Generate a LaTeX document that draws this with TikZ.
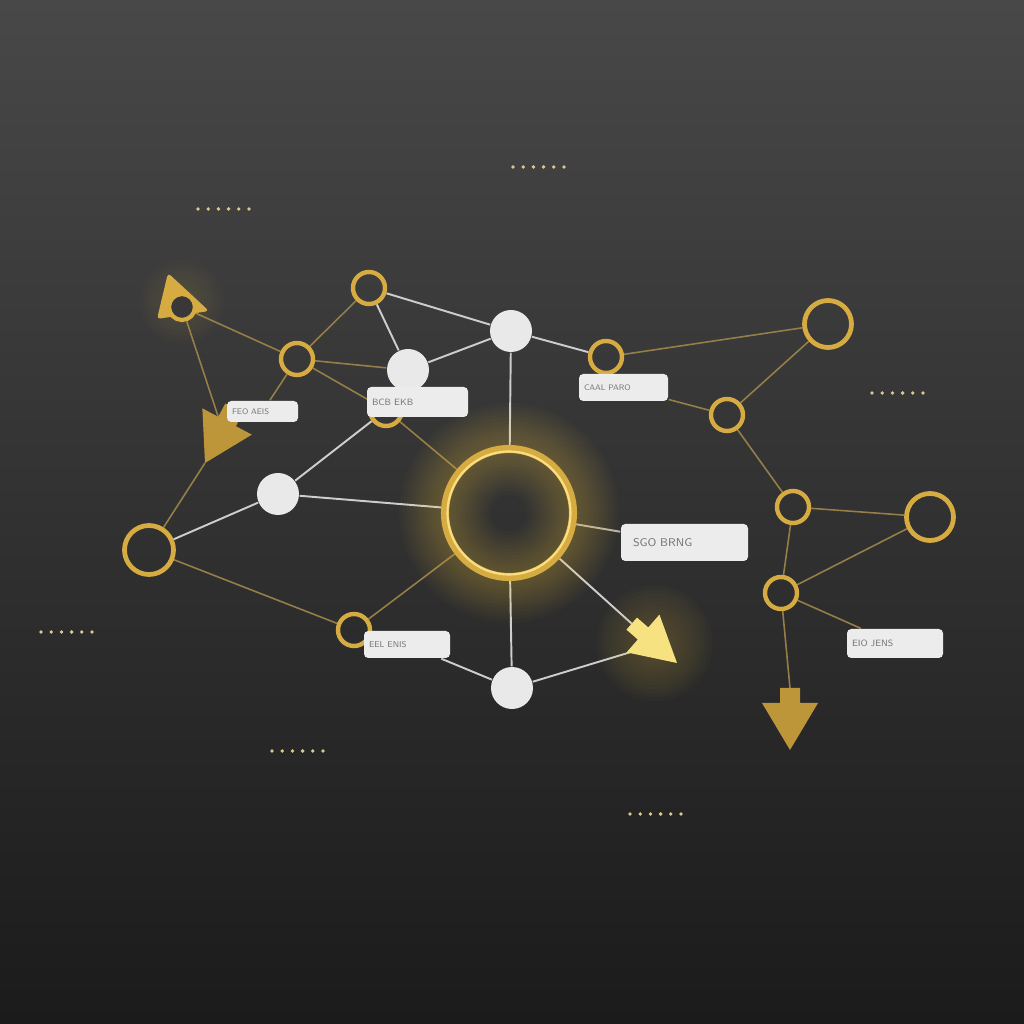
\documentclass[tikz,border=0pt]{standalone}
\usepackage{tikz}
\usetikzlibrary{positioning}
\definecolor{bgtop}{RGB}{72,72,72}
\definecolor{bgbot}{RGB}{27,27,27}
\definecolor{ringgold}{RGB}{214,172,66}
\definecolor{ringpale}{RGB}{250,222,130}
\definecolor{linegold}{RGB}{150,126,72}
\definecolor{linewhite}{RGB}{205,205,205}
\definecolor{discwhite}{RGB}{233,233,233}
\definecolor{tagwhite}{RGB}{236,236,236}
\definecolor{tagtext}{RGB}{118,118,118}
\definecolor{arrowgold}{RGB}{190,150,58}
\definecolor{arrowpale}{RGB}{246,226,128}
\definecolor{glowgold}{RGB}{255,205,70}
\definecolor{dotcream}{RGB}{220,200,140}
\newcommand{\goldarrow}{\fill[arrowgold] (0,0) -- (-0.47,0.28) -- (-0.47,0.1) -- (-0.62,0.1)
					-- (-0.62,-0.1) -- (-0.47,-0.1) -- (-0.47,-0.28) -- cycle;}
\newcommand{\glowarrow}{\foreach \r in {0.10,0.14,...,0.58} {\fill[glowgold, opacity=0.018] (-0.3,0) circle (\r);}
					\fill[arrowpale] (0,0) -- (-0.45,0.25) -- (-0.45,0.08) -- (-0.6,0.08)
					-- (-0.6,-0.08) -- (-0.45,-0.08) -- (-0.45,-0.25) -- cycle;}
\newcommand{\dotrow}{\foreach \i in {0,...,5} {\fill[dotcream] (\i*0.102,0) circle (0.019);}}
\pgfdeclarelayer{bg}
\pgfdeclarelayer{back}
\pgfsetlayers{bg,back,main}

\begin{document}
\begin{tikzpicture}[
	ring/.style={circle, draw=ringgold, line width=1.25pt, minimum size=0.32cm, inner sep=0pt},
	bigring/.style={ring, line width=1.35pt, minimum size=0.47cm},
	disc/.style={circle, fill=discwhite, minimum size=0.42cm, inner sep=0pt},
	tagbox/.style={rectangle, rounded corners=1.2pt, fill=tagwhite, text=tagtext, align=left,
		inner xsep=0.05cm, inner ysep=0pt},
	goldline/.style={draw=linegold, line width=0.45pt},
	whiteline/.style={draw=linewhite, line width=0.55pt}]

	\useasboundingbox (0,0) rectangle (10.24,10.24);
	\begin{pgfonlayer}{bg}
		\shade[top color=bgtop, bottom color=bgbot] (0,0) rectangle (10.24,10.24);
	\end{pgfonlayer}

	% glow round the middle ring
	\foreach \w in {2pt,4pt,...,26pt} {
		\draw[glowgold, line width=\w, opacity=0.022] (5.09,5.11) circle (0.64);
	}
	\node[circle, draw=ringgold, line width=2.3pt, minimum size=1.28cm, inner sep=0pt] (C) at (5.09,5.11) {};
	\draw[ringpale, line width=0.6pt] (C.center) circle (0.615);

	% rings
	\node[ring] (r1) at (3.69,7.36) {};
	\node[ring] (r2) at (2.97,6.65) {};
	\node[ring] (r3) at (3.86,6.14) {};
	\node[ring] (r4) at (6.06,6.67) {};
	\node[bigring] (r5) at (8.28,7.00) {};
	\node[ring] (r6) at (7.27,6.09) {};
	\node[ring] (r7) at (7.93,5.17) {};
	\node[bigring] (r8) at (9.30,5.07) {};
	\node[ring] (r9) at (7.81,4.31) {};
	\node[bigring, minimum size=0.49cm] (r10) at (1.49,4.74) {};
	\node[ring] (r11) at (3.54,3.94) {};

	\foreach \r in {0.10,0.14,...,0.42} {\fill[glowgold, opacity=0.015] (1.82,7.22) circle (\r);}
	\fill[ringgold, rounded corners=1pt] (1.68,7.51) -- (2.09,7.13) -- (1.57,7.05) -- cycle;
	\node[ring, line width=1.2pt, minimum size=0.26cm, fill=black!78] (r12) at (1.82,7.17) {};

	% discs
	\node[disc] (w1) at (5.11,6.93) {};
	\node[disc] (w2) at (4.08,6.54) {};
	\node[disc] (w3) at (2.78,5.30) {};
	\node[disc] (w4) at (5.12,3.36) {};

	% arrows
	\begin{scope}[xshift=2.05cm, yshift=5.61cm, rotate=-118]
		\goldarrow
		\coordinate (a1tip) at (0,0);
		\coordinate (a1in) at (-0.47,-0.1);
	\end{scope}
	\begin{scope}[xshift=6.77cm, yshift=3.61cm, rotate=-41]
		\glowarrow
		\coordinate (a2stem) at (-0.6,0);
		\coordinate (a2low) at (-0.42,-0.22);
	\end{scope}
	\begin{scope}[xshift=7.90cm, yshift=2.74cm, rotate=-90]
		\goldarrow
		\coordinate (a3stem) at (-0.62,0);
	\end{scope}

	% tags
	\node[tagbox, text width=0.61cm, minimum height=0.21cm, font=\sffamily\fontsize{2.3}{2.8}\selectfont] (lab1) at (2.625,6.125) {FEO AEIS};
	\node[tagbox, text width=0.91cm, minimum height=0.30cm, font=\sffamily\fontsize{2.6}{3}\selectfont] (lab2) at (4.175,6.22) {BCB EKB};
	\node[tagbox, text width=0.79cm, minimum height=0.27cm, font=\sffamily\fontsize{2.3}{2.8}\selectfont] (lab3) at (6.235,6.365) {CAAL PARO};
	\node[tagbox, inner xsep=0.12cm, text width=1.03cm, minimum height=0.37cm, font=\sffamily\fontsize{3.2}{3.6}\selectfont] (lab4) at (6.845,4.815) {SGO BRNG};
	\node[tagbox, text width=0.76cm, minimum height=0.27cm, font=\sffamily\fontsize{2.4}{2.8}\selectfont] (lab5) at (4.07,3.795) {EEL ENIS};
	\node[tagbox, text width=0.86cm, minimum height=0.29cm, font=\sffamily\fontsize{2.6}{3}\selectfont] (lab6) at (8.95,3.805) {EIO JENS};

	% dots
	\begin{scope}[xshift=5.13cm, yshift=8.57cm] \dotrow \end{scope}
	\begin{scope}[xshift=1.98cm, yshift=8.15cm] \dotrow \end{scope}
	\begin{scope}[xshift=8.72cm, yshift=6.31cm] \dotrow \end{scope}
	\begin{scope}[xshift=0.41cm, yshift=3.92cm] \dotrow \end{scope}
	\begin{scope}[xshift=2.72cm, yshift=2.73cm] \dotrow \end{scope}
	\begin{scope}[xshift=6.30cm, yshift=2.10cm] \dotrow \end{scope}

	\begin{pgfonlayer}{back}
		\draw[goldline] (r12) -- (r2);
		\draw[goldline] (r12) -- (a1in);
		\draw[goldline] (a1tip) -- (r10);
		\draw[goldline] (r1) -- (r2);
		\draw[goldline] (r2) -- (w2);
		\draw[goldline] (r2) -- (r3);
		\draw[goldline] (r2) -- (lab1);
		\draw[goldline] (r3) -- (C);
		\draw[goldline] (r4) -- (r5);
		\draw[goldline] (r5) -- (r6);
		\draw[goldline] (lab3) -- (r6);
		\draw[goldline] (r6) -- (r7);
		\draw[goldline] (r7) -- (r8);
		\draw[goldline] (r7) -- (r9);
		\draw[goldline] (r9) -- (r8);
		\draw[goldline] (r9) -- (lab6);
		\draw[goldline] (r9) -- (a3stem);
		\draw[goldline] (r10) -- (r11);
		\draw[goldline] (r11) -- (C);
		\draw[whiteline, draw=linewhite!70!linegold] (C) -- (lab4);

		\draw[whiteline] (r1) -- (w1);
		\draw[whiteline] (r1) -- (w2);
		\draw[whiteline] (w2) -- (w1);
		\draw[whiteline] (w1) -- (r4);
		\draw[whiteline] (w1) -- (C);
		\draw[whiteline] (r3) -- (w3);
		\draw[whiteline] (w3) -- (C);
		\draw[whiteline] (w3) -- (r10);
		\draw[whiteline] (C) -- (w4);
		\draw[whiteline] (lab5) -- (w4);
		\draw[whiteline] (w4) -- (a2low);
		\draw[whiteline] (C) -- (a2stem);
	\end{pgfonlayer}

\end{tikzpicture}
\end{document}
